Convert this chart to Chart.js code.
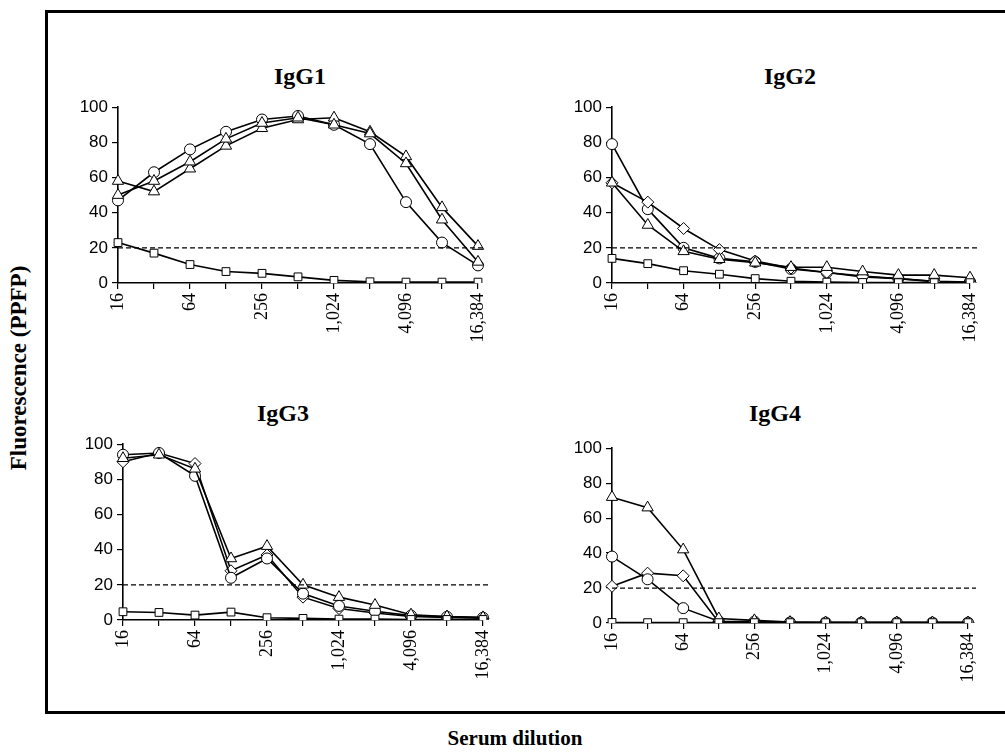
<!DOCTYPE html>
<html>
<head>
<meta charset="utf-8">
<script src="https://cdn.jsdelivr.net/npm/chart.js@4.4.0/dist/chart.umd.min.js"></script>
<style>
  html, body { margin: 0; padding: 0; background: #fff; }
  body { width: 1005px; height: 752px; position: relative; overflow: hidden; }
  .frame { position: absolute; left: 45px; top: 10px; width: 990px; height: 704px; border: 3px solid #000; box-sizing: border-box; }
  .panel { position: absolute; }
  .txt { position: absolute; font-family: "Liberation Serif", "Times New Roman", serif; font-weight: bold; color: #000; white-space: nowrap; transform: translate(-50%, -50%); }
  .title { font-size: 24px; }
</style>
</head>
<body>
<div class="frame"></div>
<div class="txt title" style="left:300px; top:76px;">IgG1</div>
<div class="txt title" style="left:790px; top:76px;">IgG2</div>
<div class="txt title" style="left:283px; top:413px;">IgG3</div>
<div class="txt title" style="left:775px; top:413px;">IgG4</div>
<div class="txt" style="left:19px; top:368px; font-size:23px; transform: translate(-50%, -50%) rotate(-90deg);">Fluorescence (PPFP)</div>
<div class="txt" style="left:515px; top:738px; font-size:21px;">Serum dilution</div>

<canvas id="c1" class="panel"></canvas>
<canvas id="c2" class="panel"></canvas>
<canvas id="c3" class="panel"></canvas>
<canvas id="c4" class="panel"></canvas>

<script>
const DILUTIONS = ['16', '32', '64', '128', '256', '512', '1,024', '2,048', '4,096', '8,192', '16,384'];
const CUTOFF = 20;

// IgG1
const IGG1_CIRCLE = [47, 63, 76, 86, 93, 95, 90, 79, 46, 23, 10];
const IGG1_TRI_A  = [58, 52, 65, 78, 88, 93, 94, 86, 72, 43, 21];
const IGG1_TRI_B  = [50, 58, 69, 82, 91, 94, 90, 85, 68, 36, 12];
const IGG1_SQUARE = [23, 17, 10.5, 6.5, 5.5, 3.5, 1.5, 0.7, 0.5, 0.5, 0.5];

// IgG2
const IGG2_CIRCLE  = [79, 42, 20, 14, 12, 8, 6, 4, 2.5, 1, 0.5];
const IGG2_DIAMOND = [57, 46, 31, 19, 12.5, 8.5, 6, 3.5, 2.5, 0.8, 0.3];
const IGG2_TRI     = [57, 33, 18, 13.5, 11.5, 9, 9, 6.5, 4.5, 4.5, 3];
const IGG2_SQUARE  = [14, 11, 7, 5, 2.5, 1, 0.5, 0.3, 0.2, 0.2, 0.2];

// IgG3
const IGG3_CIRCLE  = [94, 95, 82, 24, 35, 15, 8, 5, 2.5, 1.8, 1.3];
const IGG3_DIAMOND = [90, 95, 89, 28, 37, 13, 6.5, 4, 2, 1.5, 1];
const IGG3_TRI     = [92, 94, 86, 35, 42, 20, 13, 8.5, 3, 2, 1.5];
const IGG3_SQUARE  = [4.7, 4.3, 2.8, 4.5, 1.3, 0.9, 0.5, 0.5, 0.3, 0.3, 0.3];

// IgG4
const IGG4_TRI     = [72, 66, 42, 2.6, 1.5, 0.5, 0.3, 0.3, 0.3, 0.3, 0.3];
const IGG4_CIRCLE  = [38, 25, 8.5, 1, 0.8, 0.3, 0.2, 0.2, 0.2, 0.2, 0.2];
const IGG4_DIAMOND = [21, 28.5, 27, 0.5, 0.8, 0.3, 0.2, 0.2, 0.2, 0.2, 0.2];
const IGG4_SQUARE  = [0.3, 0.2, 0.2, 0.2, 0.2, 0.2, 0.2, 0.2, 0.2, 0.2, 0.2];

const cutoffLine = {
  id: 'cutoffLine',
  afterDatasetsDraw(chart) {
    const {ctx, chartArea, scales} = chart;
    const y = scales.y.getPixelForValue(CUTOFF);
    ctx.save();
    ctx.strokeStyle = '#000';
    ctx.lineWidth = 1.2;
    ctx.setLineDash([5, 3]);
    ctx.beginPath();
    ctx.moveTo(chartArea.left, y);
    ctx.lineTo(chartArea.right + 8, y);
    ctx.stroke();
    ctx.restore();
  }
};

function series(data, style) {
  const radius = {circle: 5.5, triangle: 6.5, rectRot: 6, rect: 5.5}[style];
  return {
    data: data,
    borderColor: '#000',
    borderWidth: 1.6,
    pointStyle: style,
    pointRadius: radius,
    pointBackgroundColor: '#fff',
    pointBorderColor: '#000',
    pointBorderWidth: 1,
    fill: false,
    tension: 0
  };
}

function panel(id, box, datasets) {
  const el = document.getElementById(id);
  // box = chart area [left, right, top, bottom]
  const [L, R, T, B] = box;
  const w = R - L + 90, h = B - T + 92;
  el.style.left = (L - 60) + 'px';
  el.style.top = (T - 12) + 'px';
  el.style.width = w + 'px';
  el.style.height = h + 'px';
  el.width = w;
  el.height = h;
  new Chart(el.getContext('2d'), {
    type: 'line',
    data: { labels: DILUTIONS, datasets: datasets },
    plugins: [cutoffLine],
    options: {
      responsive: false,
      animation: false,
      layout: { padding: { left: 2, right: 30, top: 12, bottom: 5 } },
      plugins: { legend: { display: false }, tooltip: { enabled: false } },
      scales: {
        x: {
          type: 'category',
          offset: false,
          afterFit: (s) => { s.height = 75; },
          border: { color: '#000', width: 1.6 },
          grid: { drawOnChartArea: false, drawTicks: true, tickLength: 6, color: '#000', lineWidth: 1.2 },
          ticks: {
            autoSkip: false,
            maxRotation: 90,
            minRotation: 90,
            padding: 4,
            color: '#000',
            font: { family: 'Liberation Serif', size: 18 },
            callback: (v, i) => (i % 2 === 0 ? DILUTIONS[i] : '')
          }
        },
        y: {
          min: 0,
          max: 100,
          afterFit: (s) => { s.width = 58; },
          border: { color: '#000', width: 1.6 },
          grid: { drawOnChartArea: false, drawTicks: true, tickLength: 6, color: '#000', lineWidth: 1.2 },
          ticks: {
            stepSize: 20,
            padding: 4,
            color: '#000',
            font: { family: 'Liberation Sans', size: 17 }
          }
        }
      }
    }
  });
}

panel('c1', [118, 478, 105, 283], [
  series(IGG1_SQUARE, 'rect'),
  series(IGG1_TRI_B, 'triangle'),
  series(IGG1_TRI_A, 'triangle'),
  series(IGG1_CIRCLE, 'circle')
]);
panel('c2', [612, 970, 105, 283], [
  series(IGG2_SQUARE, 'rect'),
  series(IGG2_TRI, 'triangle'),
  series(IGG2_DIAMOND, 'rectRot'),
  series(IGG2_CIRCLE, 'circle')
]);
panel('c3', [123, 483, 442, 620], [
  series(IGG3_SQUARE, 'rect'),
  series(IGG3_TRI, 'triangle'),
  series(IGG3_CIRCLE, 'circle'),
  series(IGG3_DIAMOND, 'rectRot')
]);
panel('c4', [612, 968, 446, 623], [
  series(IGG4_SQUARE, 'rect'),
  series(IGG4_TRI, 'triangle'),
  series(IGG4_CIRCLE, 'circle'),
  series(IGG4_DIAMOND, 'rectRot')
]);
</script>
</body>
</html>
